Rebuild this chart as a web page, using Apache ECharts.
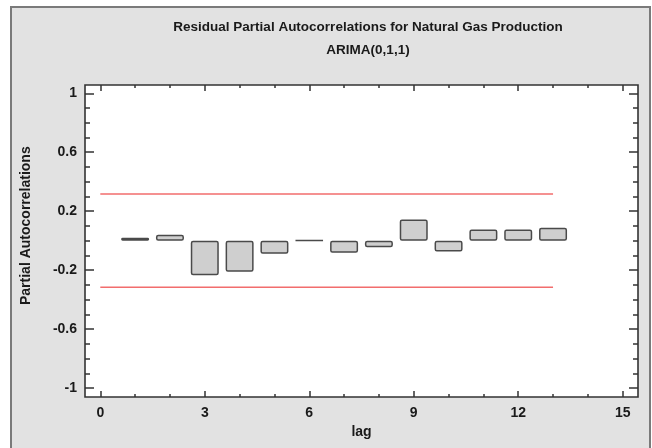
<!DOCTYPE html>
<html>
<head>
<meta charset="utf-8">
<script src="https://cdn.jsdelivr.net/npm/echarts@6/dist/echarts.min.js"></script>
<style>
  html, body { margin: 0; padding: 0; background: #fff; }
  #chart { width: 652px; height: 448px; }
</style>
</head>
<body>
<div id="chart"></div>
<script>
// lags and residual partial autocorrelations
var lags = [1, 2, 3, 4, 5, 6, 7, 8, 9, 10, 11, 12, 13]
var pacf = [0.02, 0.04, -0.234, -0.211, -0.089, 0.003, -0.082, -0.044, 0.143, -0.073, 0.076, 0.076, 0.087]
// 95% limits drawn from lag 0 to 13
var limitX = [0, 13]
var limit = 0.316

var font = "'Liberation Sans Narrow', 'Liberation Sans', Arial, sans-serif"

var barData = lags.map(function(l, i) { return [l, pacf[i]] })
var upper = limitX.map(function(x) { return [x, limit] })
var lower = limitX.map(function(x) { return [x, -limit] })

var chart = echarts.init(document.getElementById('chart'))

var tickStyle = { color: '#333', width: 1.5 }

var option = {
    animation: false,
    textStyle: { fontFamily: font },
    graphic: [
        {
            type: 'rect', z: -10, silent: true,
            shape: { x: 11, y: 7, width: 639, height: 470 },
            style: { fill: '#e2e2e2', stroke: '#7a7a7a', lineWidth: 2 }
        },
        {
            type: 'rect', z: -5, silent: true,
            shape: { x: 85, y: 85, width: 553, height: 312 },
            style: { fill: '#ffffff', stroke: '#333', lineWidth: 1.6 }
        }
    ],
    title: [
        {
            text: 'Residual Partial Autocorrelations for Natural Gas Production',
            left: 363, top: 15, textAlign: 'center',
            textStyle: { fontFamily: font, fontSize: 13.5, fontWeight: 'bold', color: '#1a1a1a' }
        },
        {
            text: 'ARIMA(0,1,1)',
            left: 363, top: 38, textAlign: 'center',
            textStyle: { fontFamily: font, fontSize: 13.5, fontWeight: 'bold', color: '#1a1a1a' }
        }
    ],
    // grid covers lag 0..15 and -1..1, axes pushed out onto the frame
    grid: { left: 100.3, right: 29.3, top: 93.3, bottom: 60 },
    xAxis: [
        {
            type: 'value', position: 'bottom', offset: 9,
            min: 0, max: 15, interval: 3,
            name: 'lag', nameLocation: 'middle', nameGap: 28,
            nameTextStyle: { fontFamily: font, fontSize: 14, fontWeight: 'bold', color: '#1a1a1a' },
            axisLine: { show: false, onZero: false },
            axisTick: { inside: true, length: 6, lineStyle: tickStyle },
            minorTick: { show: true, splitNumber: 3, length: 3, lineStyle: tickStyle },
            splitLine: { show: false },
            axisLabel: { margin: 9, fontFamily: font, fontSize: 14, fontWeight: 'bold', color: '#1a1a1a' }
        },
        {
            type: 'value', position: 'top', offset: 8.3,
            min: 0, max: 15, interval: 3,
            axisLine: { show: false, onZero: false },
            axisTick: { inside: true, length: 6, lineStyle: tickStyle },
            minorTick: { show: true, splitNumber: 3, length: 3, lineStyle: tickStyle },
            splitLine: { show: false },
            axisLabel: { show: false }
        }
    ],
    yAxis: [
        {
            type: 'value', position: 'left', offset: 15.3,
            min: -1, max: 1, interval: 0.4,
            name: 'Partial Autocorrelations', nameLocation: 'middle', nameGap: 52,
            nameTextStyle: { fontFamily: font, fontSize: 14, fontWeight: 'bold', color: '#1a1a1a', padding: [0, 0, 0, 30] },
            axisLine: { show: false, onZero: false },
            axisTick: { inside: true, length: 9, lineStyle: tickStyle },
            minorTick: { show: true, splitNumber: 4, length: 5, lineStyle: tickStyle },
            splitLine: { show: false },
            axisLabel: {
                margin: 8, fontFamily: font, fontSize: 14, fontWeight: 'bold', color: '#1a1a1a',
                formatter: function(v) { return String(Math.round(v * 10) / 10) }
            }
        },
        {
            type: 'value', position: 'right', offset: 15.3,
            min: -1, max: 1, interval: 0.4,
            axisLine: { show: false, onZero: false },
            axisTick: { inside: true, length: 9, lineStyle: tickStyle },
            minorTick: { show: true, splitNumber: 4, length: 5, lineStyle: tickStyle },
            splitLine: { show: false },
            axisLabel: { show: false }
        }
    ],
    series: [
        {
            type: 'bar',
            barWidth: 28,
            data: barData,
            itemStyle: { color: '#cfcfcf', borderColor: '#4a4a4a', borderWidth: 1.5, borderRadius: 1.5 }
        },
        {
            type: 'line', data: upper, symbol: 'none',
            lineStyle: { color: '#f26d6d', width: 1.5 }
        },
        {
            type: 'line', data: lower, symbol: 'none',
            lineStyle: { color: '#f26d6d', width: 1.5 }
        }
    ]
}

chart.setOption(option)
</script>
</body>
</html>
